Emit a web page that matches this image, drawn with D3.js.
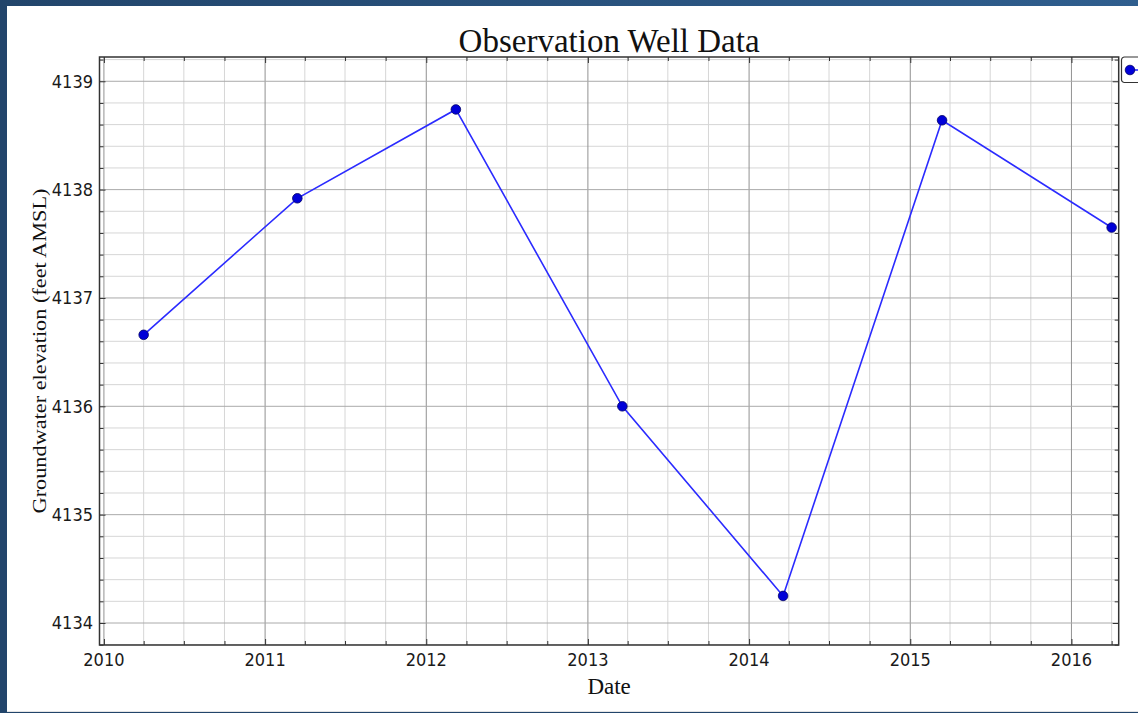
<!DOCTYPE html>
<html>
<head>
<meta charset="utf-8">
<script src="https://cdn.jsdelivr.net/npm/d3@7"></script>
<style>
  html, body { margin: 0; padding: 0; background: #ffffff; }
  svg { display: block; }
</style>
</head>
<body>
<div id="chart"></div>
<script>
// Sample dates and groundwater elevations (feet AMSL)
const sampleDates = ["2010-04-01", "2011-03-15", "2012-03-08", "2013-03-20", "2014-03-19", "2015-03-14", "2016-04-01"];
const elevations = [4136.66, 4137.92, 4138.74, 4136.00, 4134.25, 4138.64, 4137.65];
const yTicks = [4134, 4135, 4136, 4137, 4138, 4139];
const xTickYears = [2010, 2011, 2012, 2013, 2014, 2015, 2016];

const parseDate = d3.timeParse("%Y-%m-%d");
const data = sampleDates.map((d, i) => ({ date: parseDate(d), value: elevations[i] }));

const W = 1138, H = 713;
// plot box in page pixels
const plot = { left: 99.5, right: 1118.7, top: 57, bottom: 645 };

const svg = d3.select("#chart").append("svg")
  .attr("width", W)
  .attr("height", H);

// Frame of the screenshot (dark blue border on left and top)
const grad = svg.append("defs").append("linearGradient")
  .attr("id", "topBar").attr("x1", "0").attr("x2", "1");
grad.append("stop").attr("offset", "0").attr("stop-color", "#22456b");
grad.append("stop").attr("offset", "1").attr("stop-color", "#2f5e8e");
svg.append("rect").attr("x", 0).attr("y", 0).attr("width", W).attr("height", H).attr("fill", "#22456b");
svg.append("rect").attr("x", 0).attr("y", 0).attr("width", W).attr("height", 6).attr("fill", "url(#topBar)");
svg.append("rect").attr("x", 7).attr("y", 6).attr("width", W - 7).attr("height", H - 7).attr("fill", "#ffffff");
svg.append("line").attr("x1", 7).attr("x2", W).attr("y1", H - 1.5).attr("y2", H - 1.5)
  .attr("stroke", "#e4e4e4").attr("stroke-width", 1);

// Scales
const x = d3.scaleTime()
  .domain([new Date(2009, 11, 22), new Date(2016, 3, 17)])
  .range([plot.left, plot.right]);

const y = d3.scaleLinear()
  .domain([4133.797, 4139.224])
  .range([plot.bottom, plot.top]);

const majorX = xTickYears.map(yr => new Date(yr, 0, 1));
const minorX = d3.timeMonth.every(3).range(x.domain()[0], x.domain()[1])
  .filter(d => d.getMonth() !== 0);
const minorY = d3.range(Math.ceil(y.domain()[0] * 5), Math.floor(y.domain()[1] * 5) + 1)
  .map(v => v / 5)
  .filter(v => Math.abs(v - Math.round(v)) > 1e-6);

const g = svg.append("g");

// Grid (minor first, then major)
g.selectAll(".minor-x").data(minorX).enter().append("line")
  .attr("x1", d => x(d)).attr("x2", d => x(d))
  .attr("y1", plot.top).attr("y2", plot.bottom)
  .attr("stroke", "#d6d6d6").attr("stroke-width", 1);
g.selectAll(".minor-y").data(minorY).enter().append("line")
  .attr("x1", plot.left).attr("x2", plot.right)
  .attr("y1", d => y(d)).attr("y2", d => y(d))
  .attr("stroke", "#d6d6d6").attr("stroke-width", 1);
g.selectAll(".major-x").data(majorX).enter().append("line")
  .attr("x1", d => x(d)).attr("x2", d => x(d))
  .attr("y1", plot.top).attr("y2", plot.bottom)
  .attr("stroke", "#919191").attr("stroke-width", 1);
g.selectAll(".major-y").data(yTicks).enter().append("line")
  .attr("x1", plot.left).attr("x2", plot.right)
  .attr("y1", d => y(d)).attr("y2", d => y(d))
  .attr("stroke", "#aaaaaa").attr("stroke-width", 1);

// Axes with inward ticks on all four sides
const tickStyle = sel => {
  sel.select(".domain").remove();
  sel.selectAll(".tick line").attr("stroke", "#333").attr("stroke-width", 1);
};

svg.append("g").attr("transform", `translate(0,${plot.bottom})`)
  .call(d3.axisTop(x).tickValues(minorX).tickSize(4).tickFormat(""))
  .call(tickStyle);
svg.append("g").attr("transform", `translate(0,${plot.top})`)
  .call(d3.axisBottom(x).tickValues(minorX).tickSize(4).tickFormat(""))
  .call(tickStyle);
svg.append("g").attr("transform", `translate(0,${plot.bottom})`)
  .call(d3.axisTop(x).tickValues(majorX).tickSize(6).tickFormat(""))
  .call(tickStyle);
svg.append("g").attr("transform", `translate(0,${plot.top})`)
  .call(d3.axisBottom(x).tickValues(majorX).tickSize(6).tickFormat(""))
  .call(tickStyle);
svg.append("g").attr("transform", `translate(${plot.left},0)`)
  .call(d3.axisRight(y).tickValues(minorY).tickSize(4).tickFormat(""))
  .call(tickStyle);
svg.append("g").attr("transform", `translate(${plot.right},0)`)
  .call(d3.axisLeft(y).tickValues(minorY).tickSize(4).tickFormat(""))
  .call(tickStyle);
svg.append("g").attr("transform", `translate(${plot.left},0)`)
  .call(d3.axisRight(y).tickValues(yTicks).tickSize(6).tickFormat(""))
  .call(tickStyle);
svg.append("g").attr("transform", `translate(${plot.right},0)`)
  .call(d3.axisLeft(y).tickValues(yTicks).tickSize(6).tickFormat(""))
  .call(tickStyle);

// Tick labels
svg.append("g").selectAll("text").data(majorX).enter().append("text")
  .attr("x", d => x(d)).attr("y", 666)
  .attr("text-anchor", "middle")
  .attr("font-family", "DejaVu Sans Condensed, DejaVu Sans, sans-serif")
  .attr("font-size", 18).attr("fill", "#1a1a1a")
  .text(d => d.getFullYear());
svg.append("g").selectAll("text").data(yTicks).enter().append("text")
  .attr("x", 93).attr("y", d => y(d)).attr("dy", "0.36em")
  .attr("text-anchor", "end")
  .attr("font-family", "DejaVu Sans Condensed, DejaVu Sans, sans-serif")
  .attr("font-size", 18).attr("fill", "#1a1a1a")
  .text(d => d);

// Spines
svg.append("rect")
  .attr("x", plot.left).attr("y", plot.top)
  .attr("width", plot.right - plot.left).attr("height", plot.bottom - plot.top)
  .attr("fill", "none").attr("stroke", "#333").attr("stroke-width", 1.5);

// Data line and markers
const line = d3.line().x(d => x(d.date)).y(d => y(d.value));
svg.append("path").datum(data)
  .attr("d", line)
  .attr("fill", "none").attr("stroke", "#2b2bff").attr("stroke-width", 1.6);
svg.append("g").selectAll("circle").data(data).enter().append("circle")
  .attr("cx", d => x(d.date)).attr("cy", d => y(d.value)).attr("r", 4.8)
  .attr("fill", "#0000d8").attr("stroke", "#000066").attr("stroke-width", 0.8);

// Titles
svg.append("text")
  .attr("x", (plot.left + plot.right) / 2).attr("y", 52)
  .attr("text-anchor", "middle")
  .attr("font-family", "Liberation Serif, Times New Roman, serif")
  .attr("font-size", 33).attr("fill", "#111")
  .text("Observation Well Data");
svg.append("text")
  .attr("x", (plot.left + plot.right) / 2).attr("y", 694)
  .attr("text-anchor", "middle")
  .attr("font-family", "Liberation Serif, Times New Roman, serif")
  .attr("font-size", 23).attr("fill", "#111")
  .text("Date");
// the y label glyphs are narrower across the line than their length suggests
svg.append("text")
  .attr("transform", `translate(46,${(plot.top + plot.bottom) / 2}) rotate(-90) scale(1,0.84)`)
  .attr("text-anchor", "middle")
  .attr("font-family", "Liberation Serif, Times New Roman, serif")
  .attr("font-size", 22.3).attr("fill", "#111")
  .text("Groundwater elevation (feet AMSL)");

// Legend (cut off at the right edge)
const legend = svg.append("g").attr("transform", "translate(1121.5,57)");
legend.append("rect")
  .attr("width", 40).attr("height", 25.5).attr("rx", 3)
  .attr("fill", "#fff").attr("stroke", "#333").attr("stroke-width", 1.2);
legend.append("line")
  .attr("x1", 8.5).attr("x2", 30).attr("y1", 13).attr("y2", 13)
  .attr("stroke", "#2b2bff").attr("stroke-width", 1.6);
legend.append("circle")
  .attr("cx", 8.5).attr("cy", 13).attr("r", 4.8)
  .attr("fill", "#0000d8").attr("stroke", "#000066").attr("stroke-width", 0.8);
</script>
</body>
</html>
